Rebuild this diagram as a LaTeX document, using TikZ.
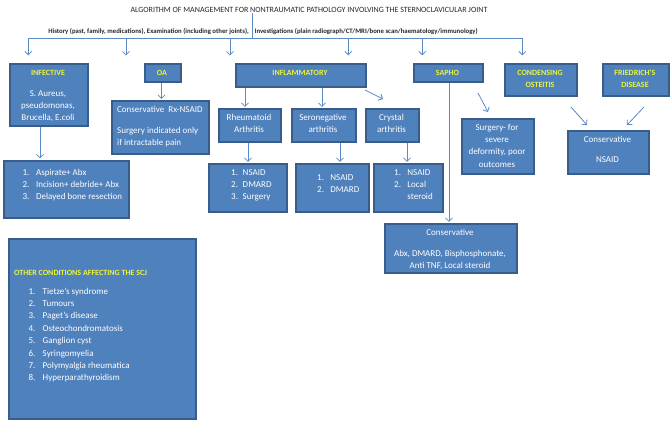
\documentclass[tikz,border=0pt]{standalone}
\usepackage{fontspec}
\setmainfont{Carlito}
\usetikzlibrary{arrows.meta,shadows}
\definecolor{boxfill}{HTML}{4F81BD}
\definecolor{boxline}{HTML}{385D8A}
\definecolor{conn}{HTML}{5B8AC6}
\definecolor{ttl}{HTML}{ECF43A}
\definecolor{hdr}{HTML}{262626}
\newcommand{\bodyf}{\fontsize{9}{12.4}\selectfont}
\newcommand{\headf}{\fontsize{8}{12.4}\selectfont\bfseries\color{ttl}}
\newcommand{\bx}[5]{\node[box, minimum width=#4pt-1.8pt, minimum height=#5pt-1.8pt] (#1) at (#2+0.9,#3+0.9) {};}
\begin{document}
\begin{tikzpicture}[x=1pt,y=-1pt,
  box/.style={draw=boxline, fill=boxfill, line width=1.8pt, inner sep=0pt, anchor=north west,
    drop shadow={shadow xshift=0.8pt, shadow yshift=-0.8pt, fill=black!30, opacity=0.5}},
  txt/.style={inner sep=0pt, text=white, font=\bodyf},
  hd/.style={inner sep=0pt, text=hdr},
  arr/.style={draw=conn, line width=0.8pt, -{Straight Barb[length=3.5pt,width=7pt]}},
  ln/.style={draw=conn, line width=0.8pt}]
\useasboundingbox (0,0) rectangle (670,421);

% header
\node[hd, anchor=base, font=\fontsize{8}{10}\selectfont] (title) at (309,12)
  {ALGORITHM OF MANAGEMENT FOR NONTRAUMATIC PATHOLOGY INVOLVING THE STERNOCLAVICULAR JOINT};
\node[hd, anchor=base east, font=\fontsize{6.75}{9}\selectfont\bfseries] (hist) at (249,33.5)
  {History (past, family, medications), Examination (including other joints),};
\node[hd, anchor=base west, font=\fontsize{6.75}{9}\selectfont\bfseries] (inv) at (254.5,33.5)
  {Investigations (plain radiograph/CT/MRI/bone scan/haematology/immunology)};

% boxes
\bx{inf}{8}{62}{80}{64}
\bx{infl}{2}{159}{127}{59}
\bx{oa}{143}{62}{38}{20}
\bx{oac}{110}{99}{99}{55}
\bx{infm}{234}{62}{132}{25}
\bx{ra}{217}{107}{64}{35}
\bx{sero}{290}{107}{66}{35}
\bx{cry}{364}{107}{55}{35}
\bx{ral}{207}{162}{80}{50}
\bx{serol}{294}{162}{75}{50}
\bx{cryl}{372}{162}{71}{50}
\bx{sapho}{412}{62}{71}{20}
\bx{cond}{503}{62}{74}{34}
\bx{fried}{601}{62}{68}{34}
\bx{surg}{460}{117}{74}{57}
\bx{nsaid}{566}{129}{83}{45}
\bx{sapc}{383}{222}{134}{51}
\bx{other}{7}{237}{189}{182}

% texts
\node[txt, anchor=base] (tinf) at (48,75) {\begin{tabular}[t]{@{}c@{}}{\headf INFECTIVE}\\[8.6pt] S. Aureus,\\ pseudomonas,\\ Brucella, E.coli\end{tabular}};
\node[txt, anchor=base west] (tinfl) at (22.4,175) {\begin{tabular}[t]{@{}l@{\hspace{6.7pt}}l@{}}1.&Aspirate+ Abx\\2.&Incision+ debride+ Abx\\3.&Delayed bone resection\end{tabular}};
\node[txt, anchor=base] (toa) at (162,75) {\headf OA};
\node[txt, anchor=base west] (toac) at (117,112) {\begin{tabular}[t]{@{}l@{}}Conservative\ \ Rx-NSAID\\[8.6pt] Surgery indicated only\\ if intractable pain\end{tabular}};
\node[txt, anchor=base] (tinfm) at (300,75) {\headf INFLAMMATORY};
\node[txt, anchor=base] (tra) at (249,120) {\begin{tabular}[t]{@{}c@{}}Rheumatoid\\Arthritis\end{tabular}};
\node[txt, anchor=base] (tsero) at (323,120) {\begin{tabular}[t]{@{}c@{}}Seronegative\\arthritis\end{tabular}};
\node[txt, anchor=base] (tcry) at (391.5,120) {\begin{tabular}[t]{@{}c@{}}Crystal\\arthritis\end{tabular}};
\node[txt, anchor=base west] (tral) at (231,175) {\begin{tabular}[t]{@{}l@{\hspace{4.7pt}}l@{}}1.&NSAID\\2.&DMARD\\3.&Surgery\end{tabular}};
\node[txt, anchor=base west] (tserol) at (317,180) {\begin{tabular}[t]{@{}l@{\hspace{6.4pt}}l@{}}1.&NSAID\\2.&DMARD\end{tabular}};
\node[txt, anchor=base west] (tcryl) at (394,175) {\begin{tabular}[t]{@{}l@{\hspace{6.4pt}}l@{}}1.&NSAID\\2.&Local\\&steroid\end{tabular}};
\node[txt, anchor=base] (tsapho) at (447.5,75) {\headf SAPHO};
\node[txt, anchor=base] (tcond) at (540,75) {\begin{tabular}[t]{@{}c@{}}{\headf CONDENSING}\\[-0.4pt]{\headf OSTEITIS}\end{tabular}};
\node[txt, anchor=base] (tfried) at (635,75) {\begin{tabular}[t]{@{}c@{}}{\headf FRIEDRICH’S}\\[-0.4pt]{\headf DISEASE}\end{tabular}};
\node[txt, anchor=base] (tsurg) at (497,130) {\begin{tabular}[t]{@{}c@{}}Surgery- for\\severe\\deformity, poor\\outcomes\end{tabular}};
\node[txt, anchor=base] (tnsaid) at (607.5,142) {\begin{tabular}[t]{@{}c@{}}Conservative\\[7.6pt]NSAID\end{tabular}};
\node[txt, anchor=base] (tsapc) at (450,235) {\begin{tabular}[t]{@{}c@{}}Conservative\\[8.6pt]Abx, DMARD, Bisphosphonate,\\Anti TNF, Local steroid\end{tabular}};
\node[txt, anchor=base west] (tothh) at (14,275) {\headf OTHER CONDITIONS AFFECTING THE SCJ};
\node[txt, anchor=base west] (tothl) at (28.4,294) {\begin{tabular}[t]{@{}l@{\hspace{7.3pt}}l@{}}1.&Tietze’s syndrome\\2.&Tumours\\3.&Paget’s disease\\4.&Osteochondromatosis\\5.&Ganglion cyst\\6.&Syringomyelia\\7.&Polymyalgia rheumatica\\8.&Hyperparathyroidism\end{tabular}};

% connectors
\coordinate (t0) at (252,13);
\coordinate (bus) at (252,38);
\coordinate (b1) at (28.3,38);
\coordinate (b2) at (126,38);
\coordinate (b3) at (230,38);
\coordinate (b4) at (348.3,38);
\coordinate (b5) at (422.3,38);
\coordinate (b6) at (522.3,38);
\draw[ln] (t0) -- (bus);
\draw[ln] (b1) -- (b6);
\foreach \b/\n in {b1/inf,b2/oa,b3/infm,b4/sapho,b5/cond,b6/fried}
  \draw[arr, shorten >=7.5pt] (\b) -- (\b |- \n.north);

\coordinate (x1) at (40,0);
\coordinate (x2) at (161.5,0);
\coordinate (x3) at (245,0);
\coordinate (x4) at (322,0);
\coordinate (x6) at (248,0);
\coordinate (x7) at (340,0);
\coordinate (x8) at (407,0);
\coordinate (x9) at (449,0);
\draw[arr, shorten >=1.5pt] (inf.south -| x1) -- (infl.north -| x1);
\draw[arr, shorten >=1pt] (oa.south -| x2) -- (oac.north -| x2);
\draw[arr, shorten >=1pt] (infm.south -| x3) -- (ra.north -| x3);
\draw[arr, shorten >=1pt] (infm.south -| x4) -- (sero.north -| x4);
\draw[arr, shorten >=1pt] (ra.south -| x6) -- (ral.north -| x6);
\draw[arr, shorten >=1pt] (sero.south -| x7) -- (serol.north -| x7);
\draw[arr, shorten >=1pt] (cry.south -| x8) -- (cryl.north -| x8);
\draw[arr, shorten >=1pt] (sapho.south -| x9) -- (sapc.north -| x9);

\coordinate (d1s) at (365,90);  \coordinate (d1e) at (383,99);
\coordinate (d2s) at (478,93);  \coordinate (d2e) at (488,112);
\coordinate (d3s) at (571,107); \coordinate (d3e) at (587,125);
\coordinate (d4s) at (644,107); \coordinate (d4e) at (627,125);
\draw[arr] (d1s) -- (d1e);
\draw[arr] (d2s) -- (d2e);
\draw[arr] (d3s) -- (d3e);
\draw[arr] (d4s) -- (d4e);
\end{tikzpicture}
\end{document}
